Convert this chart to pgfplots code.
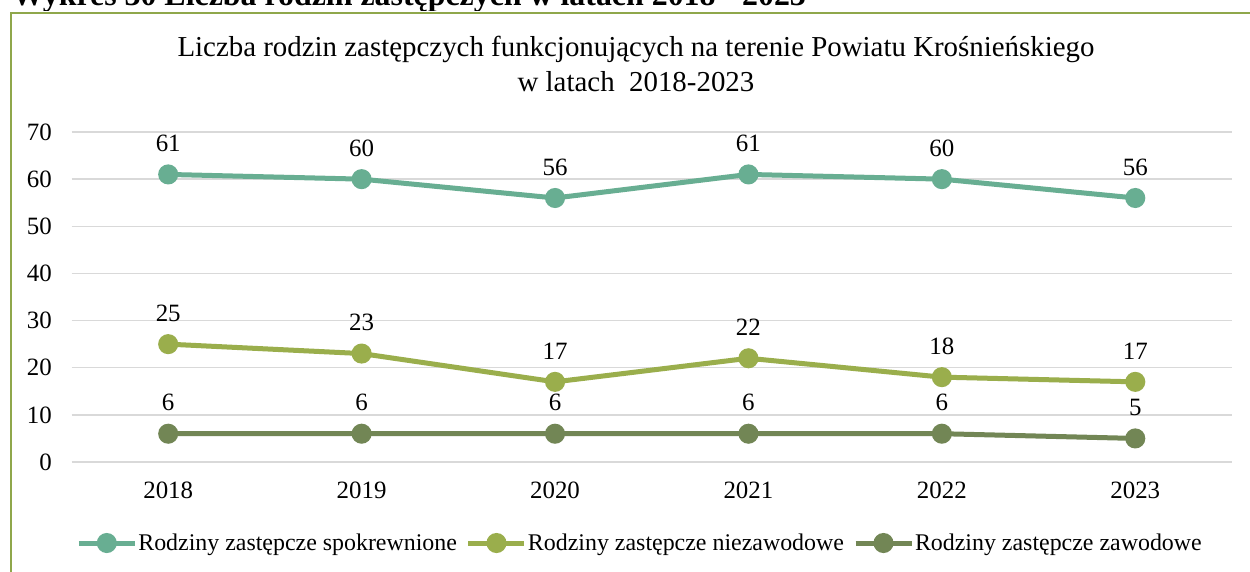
\documentclass[border=0pt]{standalone}
\usepackage{fontspec}
\setmainfont{Liberation Serif}
\usepackage{pgfplots}
\pgfplotsset{compat=1.18}
\definecolor{cA}{HTML}{68AE92}
\definecolor{cB}{HTML}{9AAE4C}
\definecolor{cC}{HTML}{728655}
\definecolor{frame}{HTML}{8FA74B}
\definecolor{gridgray}{HTML}{D9D9D9}
\begin{document}
\begin{tikzpicture}
\useasboundingbox (0,0) rectangle (1250bp,572bp);
\clip (0,0) rectangle (1250bp,572bp);
\fill[white] (0,0) rectangle (1250bp,572bp);
\node[anchor=base west, font=\fontsize{32}{36}\selectfont\bfseries, inner sep=0] at (12bp,566bp) {Wykres 30 Liczba rodzin zastępczych w latach 2018 - 2023};
\fill[white] (0,0) rectangle (1250bp,561bp);
\draw[frame, line width=2.5bp] (11bp,-10bp) rectangle (1262bp,559bp);
\node[align=center, font=\fontsize{29}{35}\selectfont, inner sep=0] at (636bp,508bp) {Liczba rodzin zastępczych funkcjonujących na terenie Powiatu Krośnieńskiego\\w latach\ \ 2018-2023};
\begin{axis}[
  at={(71.5bp,110bp)}, anchor=south west, scale only axis,
  width=1160.5bp, height=330bp,
  xmin=-0.5, xmax=5.5, ymin=0, ymax=70,
  xtick={0,1,2,3,4,5}, xticklabels={2018,2019,2020,2021,2022,2023},
  ytick={0,10,20,30,40,50,60,70},
  ymajorgrids, grid style={color=gridgray, line width=1.3bp},
  axis line style={draw=none}, major tick length=0pt,
  tick label style={font=\fontsize{25}{28}\selectfont, text=black},
  /pgf/number format/assume math mode=true,
  yticklabel style={anchor=east, inner sep=0pt, xshift=-19.5bp},
  xticklabel style={anchor=center, inner sep=0pt, yshift=-28bp},
  nodes near coords,
  nodes near coords style={anchor=center, yshift=31bp, font=\fontsize{25}{28}\selectfont, text=black, /pgf/number format/assume math mode=true},
  every axis plot/.append style={line width=5bp, mark=*, mark size=7.5bp, mark options={draw=none}},
  legend image code/.code={\draw[mark repeat=2, mark phase=2, #1] plot coordinates {(0bp,0bp) (28bp,0bp) (56bp,0bp)};},
  legend columns=3,
  legend style={at={(rel axis cs:0.4895,-0.2455)}, anchor=center, draw=none, fill=none,
    font=\fontsize{24}{28}\selectfont, nodes={inner sep=1bp},
    /tikz/every even column/.append style={column sep=8bp}},
  clip=false,
]
\addplot[color=cA] coordinates {(0,61) (1,60) (2,56) (3,61) (4,60) (5,56)};
\addlegendentry{Rodziny zastępcze spokrewnione}
\addplot[color=cB] coordinates {(0,25) (1,23) (2,17) (3,22) (4,18) (5,17)};
\addlegendentry{Rodziny zastępcze niezawodowe}
\addplot[color=cC] coordinates {(0,6) (1,6) (2,6) (3,6) (4,6) (5,5)};
\addlegendentry{Rodziny zastępcze zawodowe}
\end{axis}
\end{tikzpicture}
\end{document}
